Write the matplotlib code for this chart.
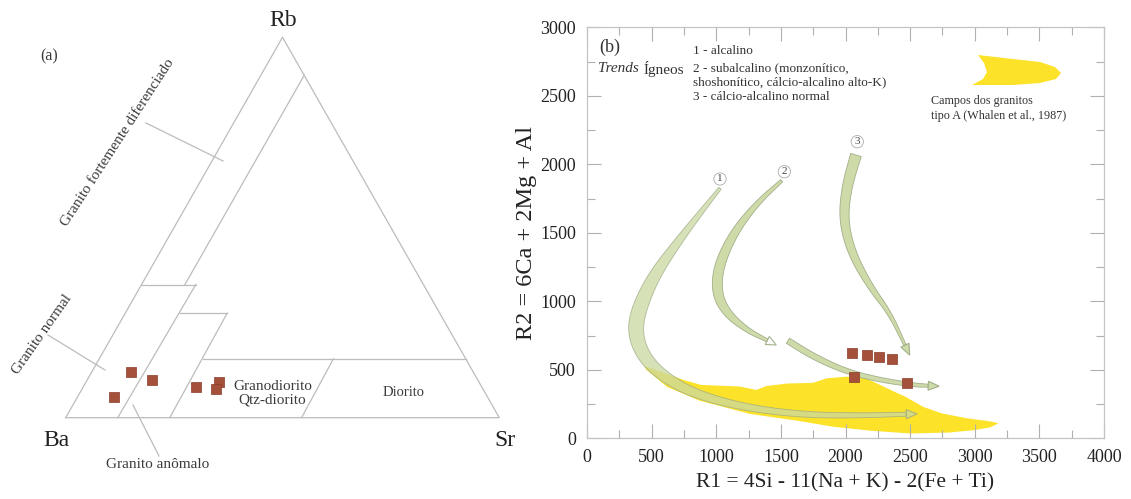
import matplotlib
matplotlib.use('Agg')
import matplotlib.pyplot as plt
from matplotlib.patches import Polygon
from matplotlib.ticker import MultipleLocator
import numpy as np

plt.rcParams['font.family'] = ['Liberation Serif', 'DejaVu Serif']

# ---------- (a) Rb - Ba - Sr ternary (percent) ----------
amostra_rb = [12, 10, 5.5, 8, 9.5, 7.5]
amostra_sr = [9, 15, 8.5, 26, 30.5, 31]
amostra_ba = [79, 75, 86, 66, 60, 61.5]

# field boundaries: each segment as (Rb, Sr) pairs, percent
limites_rb = [[90, 35], [35, 35], [35, 0], [27.5, 27.5], [27.5, 0], [15.5, 15.5], [15.5, 0]]
limites_sr = [[10, 10], [0, 12.5], [12.5, 12], [12.5, 23.5], [23.5, 24], [23.8, 84.5], [54, 54.4]]

# ---------- (b) R1 - R2 ----------
r1 = [2048, 2169, 2257, 2362, 2066, 2473]
r2 = [625, 606, 596, 577, 450, 406]

# campo dos granitos tipo A (Whalen et al., 1987)
campo_r1 = [440, 620, 750, 880, 1180, 1310, 1390, 1550, 1750, 1855, 2010, 2160, 2300, 2470,
            2600, 2745, 2940, 3110, 3185, 3120, 3000, 2800, 2500, 2200, 1900, 1650, 1260, 870, 620, 460]
campo_r2 = [530, 470, 425, 390, 378, 353, 382, 400, 405, 438, 450, 438, 375, 300,
            230, 182, 146, 125, 110, 80, 60, 42, 35, 55, 85, 125, 178, 275, 375, 500]

# trends igneos (linhas centrais das setas)
trend1_r1 = [1029, 874, 694, 513, 397, 371, 436, 590, 822, 1184, 1648, 2112, 2470]
trend1_r2 = [1825, 1642, 1423, 1180, 936, 766, 596, 450, 328, 231, 172, 166, 176]
trend2a_r1 = [1506, 1313, 1132, 1016, 1003, 1081, 1236, 1395]
trend2a_r2 = [1880, 1715, 1496, 1253, 1058, 912, 790, 714]
trend2b_r1 = [1555, 1751, 2009, 2267, 2525, 2640]
trend2b_r2 = [712, 596, 486, 426, 389, 384]
trend3_r1 = [2081, 2009, 1983, 2048, 2190, 2344, 2460]
trend3_r2 = [2068, 1836, 1593, 1350, 1107, 912, 680]

fig = plt.figure(figsize=(11.31, 4.99), dpi=100)

# ================= (a) =================
axa = fig.add_axes([0, 0, 560 / 1131, 1])
axa.set_xlim(-65.7 / 433.6, (560 - 65.7) / 433.6)
axa.set_ylim((417.7 - 499) / 439.3, 417.7 / 439.3)
axa.axis('off')
H = np.sqrt(3) / 2


def tern(rb, sr):
    rb = np.asarray(rb, float) / 100
    sr = np.asarray(sr, float) / 100
    return sr + rb / 2, rb * H


def px(x, y):
    return (x - 65.7) / 433.6, (417.7 - y) / 439.3


cor_linha = '#bcbcbc'
axa.plot([0, 1, 0.5, 0], [0, 0, H, 0], color=cor_linha, lw=0.9)
for rb, sr in zip(limites_rb, limites_sr):
    x, y = tern(rb, sr)
    axa.plot(x, y, color=cor_linha, lw=0.9)

x, y = tern(amostra_rb, amostra_sr)
axa.scatter(x, y, marker='s', s=42, color='#a5503a', edgecolor='#8a3a28', lw=0.5, zorder=5)

cor_txt = '#3a3a3a'
axa.text(*px(283, 20), 'Rb', fontsize=17, ha='center', va='center', color='#222222')
axa.text(*px(56, 440), 'Ba', fontsize=17, ha='center', va='center', color='#222222')
axa.text(*px(505, 441), 'Sr', fontsize=17, ha='center', va='center', color='#222222')
axa.text(*px(49, 56), '(a)', fontsize=11.5, ha='center', va='center', color=cor_txt)
axa.text(*px(118, 143), 'Granito fortemente diferenciado', fontsize=11, rotation=57,
         ha='center', va='center', rotation_mode='anchor', color=cor_txt)
axa.text(*px(42, 334), 'Granito normal', fontsize=11, rotation=55,
         ha='center', va='center', rotation_mode='anchor', color=cor_txt)
axa.text(*px(158, 464), 'Granito anômalo', fontsize=11, ha='center', va='center', color=cor_txt)
axa.text(*px(273, 386), 'Granodiorito', fontsize=11, ha='center', va='center', color=cor_txt)
axa.text(*px(272, 400), 'Qtz-diorito', fontsize=11, ha='center', va='center', color=cor_txt)
axa.text(*px(404, 393), 'Diorito', fontsize=10.5, ha='center', va='center', color=cor_txt)
for (x0, y0), (x1, y1) in [((146, 123), (223, 161)), ((48, 335), (105, 370)), ((133, 405), (159, 456))]:
    a, b = px(x0, y0)
    c, d = px(x1, y1)
    axa.plot([a, c], [b, d], color=cor_linha, lw=0.9)

# ================= (b) =================
axb = fig.add_axes([587 / 1131, (499 - 438.3) / 499, 517 / 1131, 411 / 499])
axb.set_xlim(0, 4000)
axb.set_ylim(0, 3000)
for s in axb.spines.values():
    s.set_color('#c4c4c4')
    s.set_linewidth(0.9)
axb.xaxis.set_major_locator(MultipleLocator(500))
axb.xaxis.set_minor_locator(MultipleLocator(250))
axb.yaxis.set_major_locator(MultipleLocator(500))
axb.yaxis.set_minor_locator(MultipleLocator(250))
axb.tick_params(which='both', direction='in', top=True, right=True, color='#b0b0b0', width=0.8,
                labelsize=13, labelcolor='#222222')
axb.tick_params(which='major', length=10, pad=8)
axb.tick_params(which='minor', length=6)
axb.set_xlabel('R1 = 4Si - 11(Na + K) - 2(Fe + Ti)', fontsize=15.5, labelpad=5, color='#222222')
axb.set_ylabel('R2 = 6Ca + 2Mg + Al', fontsize=17.5, labelpad=2, color='#222222')

amarelo = '#fde22a'
axb.add_patch(Polygon(np.column_stack([campo_r1, campo_r2]), closed=True, fc=amarelo, ec='none', zorder=1))

verde = '#c9d8a0'
verde_borda = '#9aa882'


def chaikin(a, n=5):
    for _ in range(n):
        q = 0.75 * a[:-1] + 0.25 * a[1:]
        r = 0.25 * a[:-1] + 0.75 * a[1:]
        m = np.empty((2 * len(q), a.shape[1]))
        m[0::2] = q
        m[1::2] = r
        a = np.vstack([a[:1], m, a[-1:]])
    return a


def seta(xs, ys, ws, cabeca=(10, 9), fc_cab=verde, alpha=0.9):
    p = axb.transData.transform(np.column_stack([xs, ys]))
    a = chaikin(np.column_stack([p, ws]))
    p, w = a[:, :2], a[:, 2]
    d = np.gradient(p, axis=0)
    d /= np.linalg.norm(d, axis=1)[:, None]
    n = np.column_stack([-d[:, 1], d[:, 0]])
    poly = np.vstack([p + n * w[:, None] / 2, (p - n * w[:, None] / 2)[::-1]])
    inv = axb.transData.inverted()
    axb.add_patch(Polygon(inv.transform(poly), closed=True, fc=verde, ec=verde_borda,
                          lw=0.6, alpha=alpha, zorder=3))
    if cabeca:
        L, W = cabeca
        e, dd, nn = p[-1], d[-1], n[-1]
        tri = np.array([e + dd * L, e + nn * W / 2, e - nn * W / 2])
        axb.add_patch(Polygon(inv.transform(tri), closed=True, fc=fc_cab, ec=verde_borda,
                              lw=0.8, alpha=alpha, zorder=3))


seta(trend1_r1, trend1_r2, [3, 5, 8, 12, 15, 15, 13, 11, 9, 7, 6, 5, 4], cabeca=(11, 9), alpha=0.75)
seta(trend2a_r1, trend2a_r2, [3, 5, 8, 10, 10, 8, 5, 3], cabeca=(10, 9), fc_cab='white')
seta(trend2b_r1, trend2b_r2, [6, 6, 5, 4.5, 4, 3], cabeca=(11, 9))
seta(trend3_r1, trend3_r2, [11, 10, 9, 8, 6, 4, 2.5], cabeca=(11, 9))

for (x, y), t in zip([(1029, 1893), (1527, 1946), (2091, 2165)], ['1', '2', '3']):
    axb.text(x, y, t, fontsize=8, ha='center', va='center', color='#444444', zorder=6,
             bbox=dict(boxstyle='circle,pad=0.15', fc='white', ec='#aaaaaa', lw=0.6))

axb.scatter(r1, r2, marker='s', s=42, color='#a5503a', edgecolor='#8a3a28', lw=0.5, zorder=5)


def pb(x, y):
    return (x - 587) / 517, (438.3 - y) / 411


kw = dict(transform=axb.transAxes, fontsize=9.5, color='#333333', va='center')
axb.text(*pb(599, 47), '(b)', transform=axb.transAxes, fontsize=13, color='#333333', va='center')
axb.text(*pb(598, 69), 'Trends', style='italic', ha='left', transform=axb.transAxes,
         fontsize=11, color='#333333', va='center')
axb.text(*pb(643, 69), 'Ígneos', ha='left', transform=axb.transAxes,
         fontsize=11, color='#333333', va='center')
axb.text(*pb(693, 51.5), '1 - alcalino', **kw)
axb.text(*pb(693, 68), '2 - subalcalino (monzonítico,', **kw)
axb.text(*pb(693, 82), 'shoshonítico, cálcio-alcalino alto-K)', **kw)
axb.text(*pb(693, 97), '3 - cálcio-alcalino normal', **kw)
kw['fontsize'] = 8.7
axb.text(*pb(931, 101), 'Campos dos granitos', **kw)
axb.text(*pb(931, 116), 'tipo A (Whalen et al., 1987)', **kw)

legenda = [(978, 55), (1013, 59), (1040, 62), (1055, 67), (1061, 73), (1056, 79), (1040, 83),
           (1013, 85), (972, 85), (983, 79), (987, 72), (984, 63)]
axb.add_patch(Polygon([pb(x, y) for x, y in legenda], closed=True, fc=amarelo, ec='none',
                      transform=axb.transAxes))

fig.savefig('out.png', dpi=100)
